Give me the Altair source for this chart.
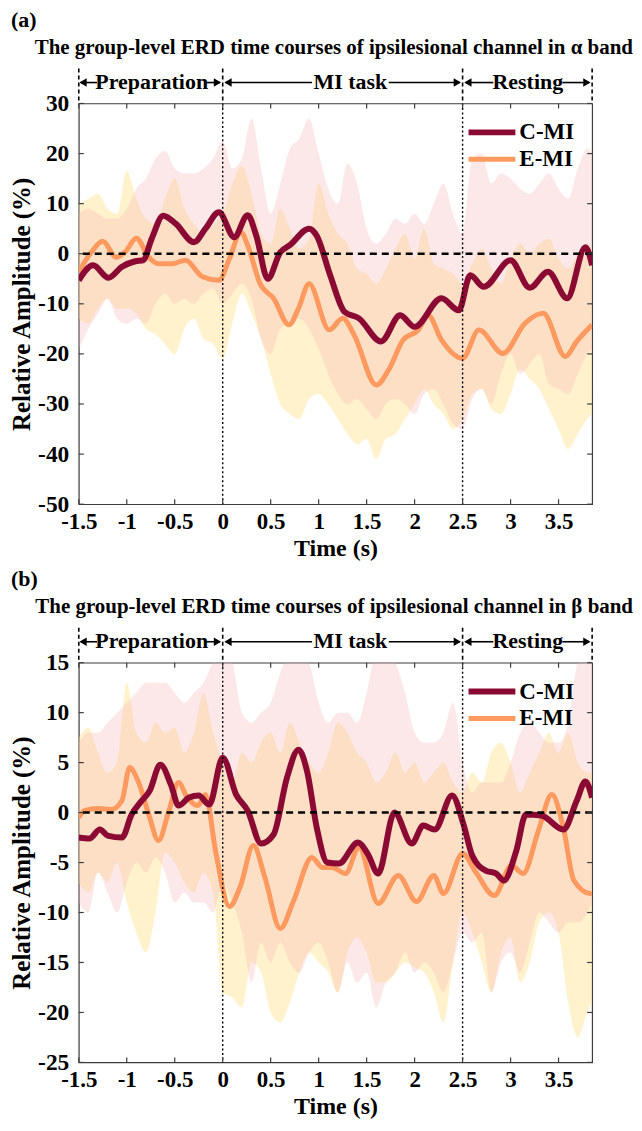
import altair as alt
import pandas as pd

FONT = "Liberation Serif"
W = 515
H_A, H_B = 402, 401
XDOM = [-1.5, 3.85]

# ---------------- tick labels / annotations ----------------
x_ticks = [-1.5, -1, -0.5, 0, 0.5, 1, 1.5, 2, 2.5, 3, 3.5]
ya_ticks = [-50, -40, -30, -20, -10, 0, 10, 20, 30]
yb_ticks = [-25, -20, -15, -10, -5, 0, 5, 10, 15]
phase_names = ["Preparation", "MI task", "Resting"]
phase_centers = [-0.74, 1.33, 3.18]
phase_bounds = [-1.5, 0, 2.5, 3.85]
arrow_start = [-1.48, -0.17, 0.03, 1.73, 2.53, 3.54]
arrow_end = [-1.31, -0.03, 0.93, 2.47, 2.82, 3.82]
head_left = [-1.455, 0.055, 2.555]
head_right = [-0.055, 2.445, 3.795]
event_lines = [0, 2.5]
zero_line = [0]
series = ["C-MI", "E-MI"]
line_colors = ["#8b0a33", "#fe9a60"]
band_colors = ["#f4b4b4", "#ffe089"]

# ---------------- shaded bands (shared time grid) ----------------
t_band = [-1.5, -1.4, -1.3, -1.2, -1.1, -1.0, -0.9, -0.8, -0.7, -0.6, -0.5, -0.4, -0.3, -0.2, -0.1,
          0.0, 0.1, 0.2, 0.3, 0.4, 0.5, 0.6, 0.7, 0.8, 0.9,
          1.0, 1.1, 1.2, 1.3, 1.4, 1.5, 1.6, 1.7, 1.8, 1.9,
          2.0, 2.1, 2.2, 2.3, 2.4, 2.5, 2.6, 2.7, 2.8, 2.9,
          3.0, 3.1, 3.2, 3.3, 3.4, 3.5, 3.6, 3.7, 3.8, 3.85]

# panel (a): alpha band
a_c_upper = [8, 9, 8, 7, 7, 9, 13, 15, 19, 20.5, 17, 16, 16, 17, 19,
             22.5, 17, 19, 27, 17, 8, 14, 21, 23, 27,
             20, 13, 10, 18, 14, 5, 2, 4, 7, 6,
             8, 6, 10, 14, 8, 4, 19, 20, 14, 16,
             15, 13, 12, 14, 16, 13, 11, 17, 21, 20]
a_c_lower = [-19, -15, -12, -9, -13, -14, -13, -14, -10, -8, -10, -9, -10, -8, -7,
             -10, -8, -6, -9, -17, -20, -15, -14, -13, -15,
             -19, -24, -28, -30, -29, -31, -33, -30, -29, -30,
             -32, -28, -27, -30, -34, -35, -29, -27, -30, -24,
             -20, -24, -22, -20, -26, -27, -28, -24, -20, -19]
a_e_upper = [10, 11, 12, 9, 8, 16.5, 11, 7, 6, 11, 15, 9, 6, 4, 6,
             8, 14, 17.5, 12, 4, 2, 9, 5, 1, 3,
             14, 8, 4, 2, -3, -4, -6, -3, 1, 4,
             -1, 5, -2, -3, -4, -6, -2, 1, -3, -6,
             -1, 2, 0, 2, 3, -1, -3, 0, 2, 1]
a_e_lower = [-13, -14, -11, -9, -11, -11, -12, -15, -16, -18, -20, -15, -13, -17, -18,
             -21, -14, -8, -12, -17, -24, -30, -32, -33, -29,
             -28, -30, -33, -36, -38, -37, -41, -37, -36, -33,
             -30, -27, -30, -32, -35, -33, -28, -27, -31, -32,
             -28, -23, -25, -27, -31, -35, -39, -36, -33, -32]

# panel (b): beta band
b_c_upper = [7, 8, 8, 9, 10, 11, 12, 13, 13, 13, 12, 11, 12, 13, 15,
             16, 15, 10, 9, 10, 11, 14, 16, 16, 15,
             11, 9, 10, 10, 9, 12, 16, 16, 15, 12,
             8, 7, 7, 8, 11, 5, 2, 3, 3, 3,
             5, 8, 9, 8, 7, 7, 9, 15, 16, 16]
b_c_lower = [-9, -10, -6, -8, -10, -7, -5, -6, -4.5, -6, -9, -8, -9, -9, -10,
             -7, -9, -12, -17, -13, -15, -13, -15, -16, -14,
             -13, -15, -18, -15, -17, -16, -19.5, -17, -16, -14,
             -16, -15, -16, -18, -15, -12, -13, -12, -18, -15,
             -14, -16, -13, -10, -11, -12, -11, -11, -10, -9]
b_e_upper = [7.5, 8.5, 6, 4, 5, 13, 8, 7, 9, 8, 8.5, 6, 8, 12, 8,
             5, 3, 6, 5, 7, 8, 6, 9, 7, 5,
             4, 6, 9, 8, 6, 5, 3, 4, 6, 4,
             5, 3, 4, 5, 3, 2, 4, 3, 6, 7,
             5, 2, 4, 6, 8, 6, 8, 5, 4, 4]
b_e_lower = [-7, -8, -6, -7, -5, -9, -12, -14, -10, -4, -5, -7, -8, -6, -8,
             -18, -18.5, -19.5, -15, -16, -20, -21, -19, -16, -14,
             -15, -16, -18, -14, -12.5, -14, -17, -17, -16, -15,
             -15.5, -16, -18, -21, -15, -10, -12, -15, -18, -14,
             -12.5, -17, -15, -11, -10, -12, -19, -22.5, -20, -19]

# ---------------- mean curves ----------------
a_c_t = [-1.5, -1.35, -1.19, -1.05, -0.91, -0.83, -0.74, -0.62, -0.49, -0.30, -0.18, -0.04, 0.12, 0.26,
         0.35, 0.47, 0.60, 0.70, 0.90, 0.98, 1.12, 1.27, 1.42, 1.65, 1.85, 2.00, 2.28, 2.46, 2.58, 2.72,
         3.0, 3.2, 3.39, 3.59, 3.78, 3.85]
a_c_v = [-5.3, -2.3, -4.8, -2.6, -1.5, -1.3, 3, 7.6, 6, 2.3, 5, 8.3, 3.3, 7.7,
         3.6, -5, 0.3, 1.7, 5, 3.6, -4.3, -11.6, -12.9, -17.5, -12.3, -14.6, -8.9, -11.3, -4.3, -6.6,
         -1.3, -6.8, -3.6, -8.9, 1.3, -2.3]
a_e_t = [-1.5, -1.37, -1.25, -1.11, -1.02, -0.9, -0.77, -0.67, -0.53, -0.39, -0.21, -0.04, 0.07, 0.19,
         0.26, 0.39, 0.53, 0.69, 0.79, 0.90, 1.11, 1.25, 1.37, 1.60, 1.74, 1.88, 2.04, 2.14, 2.28,
         2.50, 2.67, 2.92, 3.15, 3.34, 3.57, 3.69, 3.85]
a_e_v = [-3.6, 0.3, 2.5, -0.7, 0.3, 3.1, -0.7, -2, -2, -1.3, -4.6, -5.3, -1, 4.3,
         1.7, -6, -8.9, -14.2, -10.9, -6, -15.2, -12.9, -16.2, -26.2, -22.8, -17.2, -15.2, -12.3, -17.2,
         -20.9, -15.2, -19.9, -13.9, -11.9, -20.5, -17.5, -14.2]

b_c_t = [-1.5, -1.39, -1.28, -1.2, -1.05, -0.95, -0.86, -0.76, -0.65, -0.54, -0.46, -0.35, -0.25, -0.14,
         0.0, 0.14, 0.26, 0.40, 0.53, 0.67, 0.79, 0.88, 0.98, 1.09, 1.21, 1.41, 1.51, 1.62, 1.79, 1.97,
         2.09, 2.21, 2.39, 2.51, 2.60, 2.74, 2.85, 2.93, 3.06, 3.16, 3.32, 3.55, 3.69, 3.78, 3.85]
b_c_v = [-2.5, -2.6, -1.7, -2.3, -2.5, -0.2, 1, 2.2, 4.8, 2.8, 0.7, 1.5, 1.7, 0.8,
         5.5, 1.8, 0.2, -3.1, -2.2, 3.5, 6.3, 4.1, -1.5, -5, -5.1, -3, -4.1, -6.1, 0, -3.1,
         -1.3, -1.7, 1.7, -1.2, -4.3, -5.8, -6.1, -6.8, -3.8, -0.2, -0.3, -1.7, 1.2, 3.1, 1.5]
b_e_t = [-1.5, -1.44, -1.3, -1.16, -1.05, -0.97, -0.88, -0.77, -0.67, -0.56, -0.46, -0.37, -0.26, -0.18,
         -0.07, 0.07, 0.18, 0.32, 0.44, 0.60, 0.74, 0.93, 1.04, 1.14, 1.28, 1.42, 1.62, 1.83, 2.02, 2.20,
         2.30, 2.50, 2.64, 2.83, 3.01, 3.13, 3.29, 3.43, 3.55, 3.66, 3.83, 3.85]
b_e_v = [-0.5, 0.2, 0.4, 0.3, 1.2, 4.5, 3.1, -0.2, -2.8, 0.2, 3, 1.5, 0.7, 1.8,
         -4.1, -9.4, -7.5, -3.3, -6.5, -11.6, -8.8, -4.5, -5.5, -5.5, -6.1, -3.5, -9.1, -6.3, -8.9, -6.3,
         -8.1, -4.1, -6, -8.3, -5.3, -6.1, -1.8, 1.8, -1.5, -6.8, -8.1, -8.0]


def txt(s, **kw):
    base = dict(font=FONT, fontWeight="bold", color="black")
    base.update(kw)
    return alt.Chart(pd.DataFrame({"s": [s]})).mark_text(**base)


def panel(tag, title, tc, vc, te, ve, cu, cl, eu, el, ydom, yticks, h):
    xs = alt.Scale(domain=XDOM, nice=False, zero=False)
    ys = alt.Scale(domain=ydom, nice=False, zero=False)
    xax = alt.Axis(values=x_ticks, labelExpr="'' + datum.value", ticks=False, domain=False, grid=False,
                   labelFont=FONT, labelFontSize=23, labelFontWeight="bold", labelColor="black",
                   labelPadding=6, labelFlush=False, labelOverlap=False,
                   title="Time (s)", titleFont=FONT, titleFontSize=24, titleFontWeight="bold",
                   titleColor="black", titlePadding=3)
    yax = alt.Axis(values=yticks, labelExpr="'' + datum.value", ticks=False, domain=False, grid=False,
                   labelFont=FONT, labelFontSize=23.5, labelFontWeight="bold", labelColor="black",
                   labelPadding=10, labelFlush=False, labelOverlap=False,
                   title="Relative Amplitude (%)", titleFont=FONT, titleFontSize=25,
                   titleFontWeight="bold", titleColor="black", titlePadding=3)
    X = alt.X("t:Q", scale=xs, axis=xax)
    Y = alt.Y("v:Q", scale=ys, axis=yax)

    band = pd.DataFrame({"t": t_band, "cu": cu, "cl": cl, "eu": eu, "el": el})
    eb = alt.Chart(band).mark_area(color=band_colors[1], opacity=0.42, interpolate="monotone",
                                   clip=True).encode(x=X, y=alt.Y("el:Q", scale=ys, axis=yax), y2="eu:Q")
    cb = alt.Chart(band).mark_area(color=band_colors[0], opacity=0.3, interpolate="monotone",
                                   clip=True).encode(x=X, y=alt.Y("cl:Q", scale=ys, axis=yax), y2="cu:Q")
    le = alt.Chart(pd.DataFrame({"t": te, "v": ve})).mark_line(
        color=line_colors[1], strokeWidth=5, interpolate="monotone", clip=True).encode(x=X, y=Y)
    lc = alt.Chart(pd.DataFrame({"t": tc, "v": vc})).mark_line(
        color=line_colors[0], strokeWidth=6, interpolate="monotone", clip=True).encode(x=X, y=Y)
    zero = alt.Chart(pd.DataFrame({"v": zero_line})).mark_rule(
        color="black", strokeWidth=2.5, strokeDash=[7, 5]).encode(y=Y)
    ev = alt.Chart(pd.DataFrame({"t": event_lines})).mark_rule(
        color="black", strokeWidth=1.4, strokeDash=[2, 2.5]).encode(x=X)

    xt = pd.DataFrame({"t": x_ticks})
    yt = pd.DataFrame({"v": yticks})
    tick_kw = dict(color="#3c3c3c", strokeWidth=1.2)
    xtb = alt.Chart(xt).mark_rule(**tick_kw).encode(x=X, y=alt.value(h), y2=alt.value(h - 5))
    xtt = alt.Chart(xt).mark_rule(**tick_kw).encode(x=X, y=alt.value(0), y2=alt.value(5))
    ytl = alt.Chart(yt).mark_rule(**tick_kw).encode(y=Y, x=alt.value(0), x2=alt.value(5))
    ytr = alt.Chart(yt).mark_rule(**tick_kw).encode(y=Y, x=alt.value(W - 5), x2=alt.value(W))

    hdr = alt.Chart(pd.DataFrame({"t": phase_bounds})).mark_rule(
        color="black", strokeWidth=1.6, strokeDash=[4, 3]).encode(x=X, y=alt.value(-35), y2=alt.value(0))
    plab = alt.Chart(pd.DataFrame({"t": phase_centers, "s": phase_names})).mark_text(
        font=FONT, fontWeight="bold", fontSize=22, color="black", baseline="middle").encode(
        x=X, y=alt.value(-22), text="s:N")
    shafts = alt.Chart(pd.DataFrame({"t": arrow_start, "t1": arrow_end})).mark_rule(
        color="black", strokeWidth=1.6).encode(x=X, x2="t1:Q", y=alt.value(-21))
    hl = alt.Chart(pd.DataFrame({"t": head_left})).mark_point(
        shape="triangle-left", filled=True, size=70, color="black", opacity=1).encode(x=X, y=alt.value(-21))
    hr = alt.Chart(pd.DataFrame({"t": head_right})).mark_point(
        shape="triangle-right", filled=True, size=70, color="black", opacity=1).encode(x=X, y=alt.value(-21))

    legend_layers = []
    for i, (name, col) in enumerate(zip(series, line_colors)):
        yy = 29 + 27 * i
        legend_layers.append(
            alt.Chart(pd.DataFrame({"s": [name]})).mark_rule(color=col, strokeWidth=6 if i == 0 else 5).encode(
                x=alt.value(391), x2=alt.value(438), y=alt.value(yy)))
        legend_layers.append(
            txt(name, fontSize=23, align="left", baseline="middle").encode(
                x=alt.value(442), y=alt.value(yy), text="s:N"))

    tag_t = txt(tag, fontSize=22, align="left", baseline="middle").encode(
        x=alt.value(-68), y=alt.value(-84), text="s:N")
    title_t = txt(title, fontSize=21, align="right", baseline="middle").encode(
        x=alt.value(556), y=alt.value(-56), text="s:N")

    return alt.layer(eb, cb, le, lc, zero, ev, xtb, xtt, ytl, ytr, hdr, plab, shafts, hl, hr,
                     *legend_layers, tag_t, title_t).properties(width=W, height=h)


pa = panel("(a)", "The group-level ERD time courses of ipsilesional channel in  α  band",
           a_c_t, a_c_v, a_e_t, a_e_v, a_c_upper, a_c_lower, a_e_upper, a_e_lower,
           [-50, 30], ya_ticks, H_A)
pb = panel("(b)", "The group-level ERD time courses of ipsilesional channel in  β  band",
           b_c_t, b_c_v, b_e_t, b_e_v, b_c_upper, b_c_lower, b_e_upper, b_e_lower,
           [-25, 15], yb_ticks, H_B)

chart = alt.vconcat(pa, pb, spacing=159, bounds="flush").configure_view(
    stroke="#3c3c3c", strokeWidth=1.2).properties(
    padding={"left": 1, "top": -2, "right": 0, "bottom": 0}, background="white")

chart.save("out.html", embed_options={"renderer": "svg", "actions": False})
